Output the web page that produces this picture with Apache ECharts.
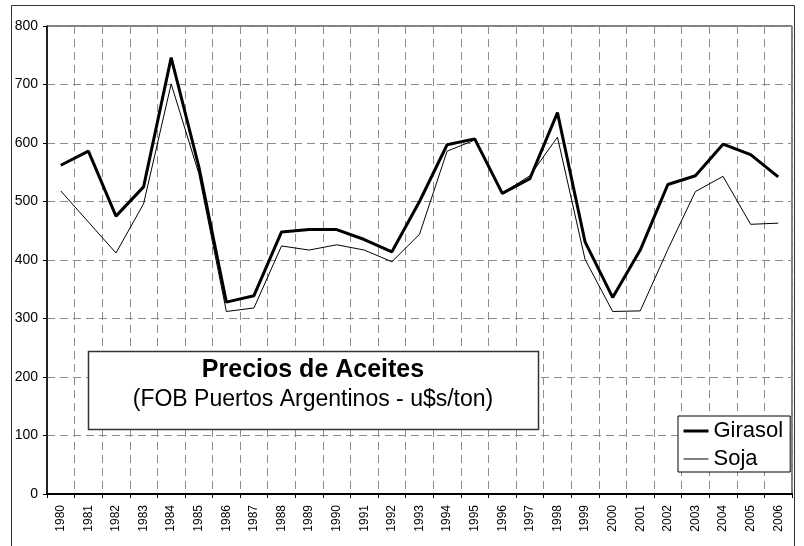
<!DOCTYPE html>
<html>
<head>
<meta charset="utf-8">
<script src="https://cdn.jsdelivr.net/npm/echarts@6/dist/echarts.min.js"></script>
<style>
  html, body { margin: 0; padding: 0; background: #fff; }
  #chart { width: 804px; height: 546px; }
</style>
</head>
<body>
<div id="chart"></div>
<script>
// Export prices of vegetable oils, FOB Argentine ports (u$s/ton)
const years = ['1980','1981','1982','1983','1984','1985','1986','1987','1988','1989',
  '1990','1991','1992','1993','1994','1995','1996','1997','1998','1999',
  '2000','2001','2002','2003','2004','2005','2006'];
const girasol = [562, 586, 475, 525, 746, 560, 328, 339, 448, 452, 452, 435, 414, 500,
  597, 607, 514, 539, 652, 431, 336, 417, 529, 544, 598, 580, 542];
const soja = [518, 465, 412, 496, 701, 548, 312, 318, 424, 417, 426, 417, 397, 444,
  586, 605, 514, 544, 610, 401, 312, 313, 418, 517, 543, 461, 463];
const yTicks = { min: 0, max: 800, step: 100 };
const titleText = 'Precios de Aceites';
const subtitleText = '(FOB Puertos Argentinos - u$s/ton)';

const FONT = 'Arial, "Liberation Sans", sans-serif';
const dashed = { color: '#8c8c8c', width: 1, type: [8, 5] };
// legend markers: plain line segment, no point symbol
const hiddenSymbol = { color: 'rgba(0,0,0,0)', borderWidth: 0, opacity: 0 };

const chart = echarts.init(document.getElementById('chart'), null, { renderer: 'canvas' });
chart.setOption({
  backgroundColor: '#fff',
  animation: false,
  grid: {
    left: 47, top: 26, right: 12, bottom: 52,
    show: true, borderColor: '#000', borderWidth: 1
  },
  xAxis: {
    type: 'category',
    data: years,
    boundaryGap: true,
    axisLine: { lineStyle: { color: '#000', width: 2 } },
    axisTick: { show: true, length: 4, lineStyle: { color: '#000' } },
    axisLabel: { rotate: 90, fontSize: 12, color: '#000', fontFamily: FONT, margin: 11, interval: 0 },
    splitLine: { show: true, interval: 0, lineStyle: dashed }
  },
  yAxis: {
    type: 'value',
    min: yTicks.min, max: yTicks.max, interval: yTicks.step,
    axisLine: { show: true, lineStyle: { color: '#000', width: 1.5 } },
    axisTick: { show: true, length: 4, lineStyle: { color: '#000' } },
    axisLabel: { fontSize: 14, color: '#000', fontFamily: FONT, margin: 9 },
    splitLine: { show: true, lineStyle: dashed }
  },
  legend: {
    orient: 'vertical',
    left: 678, top: 416,
    padding: [4, 7, 2, 4],
    itemGap: 6,
    itemWidth: 25,
    itemHeight: 14,
    backgroundColor: '#fff',
    borderColor: '#000',
    borderWidth: 1,
    borderRadius: 0,
    itemStyle: hiddenSymbol,
    textStyle: { fontSize: 22, color: '#000', fontFamily: FONT },
    data: [
      { name: 'Girasol', itemStyle: hiddenSymbol, lineStyle: { width: 3, color: '#000' } },
      { name: 'Soja', itemStyle: hiddenSymbol, lineStyle: { width: 1, color: '#000' } }
    ]
  },
  series: [
    {
      name: 'Girasol', type: 'line', data: girasol,
      symbol: 'none',
      lineStyle: { color: '#000', width: 3 },
      itemStyle: { color: '#000' },
      z: 3
    },
    {
      name: 'Soja', type: 'line', data: soja,
      symbol: 'none',
      lineStyle: { color: '#000', width: 1 },
      itemStyle: { color: '#000' },
      z: 2
    }
  ],
  graphic: [
    {
      type: 'rect', silent: true, z: -1,
      shape: { x: 11.5, y: 5.5, width: 783, height: 600 },
      style: { fill: null, stroke: '#333', lineWidth: 1 }
    },
    {
      type: 'rect', silent: true, z: 10,
      shape: { x: 88.5, y: 351.5, width: 450, height: 78 },
      style: { fill: '#fff', stroke: '#333', lineWidth: 1.5 }
    },
    {
      type: 'text', silent: true, z: 11,
      x: 313, y: 370,
      style: {
        text: titleText, fill: '#000', align: 'center', verticalAlign: 'middle',
        font: 'bold 25px ' + FONT
      }
    },
    {
      type: 'text', silent: true, z: 11,
      x: 313, y: 400,
      style: {
        text: subtitleText, fill: '#000', align: 'center', verticalAlign: 'middle',
        font: '23px ' + FONT
      }
    }
  ]
});
</script>
</body>
</html>
